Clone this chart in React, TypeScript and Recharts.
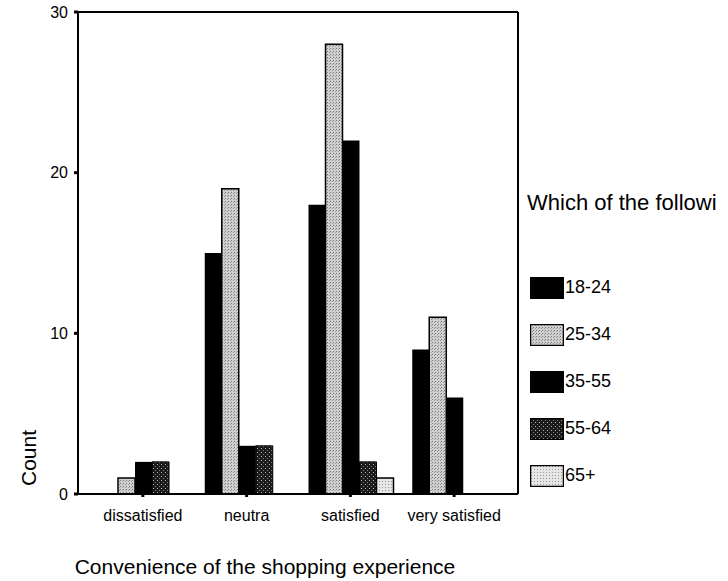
import { BarChart, Bar, XAxis, YAxis } from "recharts";

// Convenience of the shopping experience, counts by age group
const categories = ["dissatisfied", "neutra", "satisfied", "very satisfied"];
const age18to24 = [0, 15, 18, 9];
const age25to34 = [1, 19, 28, 11];
const age35to55 = [2, 3, 22, 6];
const age55to64 = [2, 3, 2, 0];
const age65plus = [0, 0, 1, 0];
const yTicks = [0, 10, 20, 30];

const seriesNames = ["18-24", "25-34", "35-55", "55-64", "65+"];
const seriesFills = ["#000", "url(#stipMid)", "#000", "url(#stipDark)", "url(#stipLight)"];
const seriesStroke = ["none", "#000", "none", "#000", "#000"];

const data = categories.map((name, i) => ({
  name,
  a: age18to24[i],
  b: age25to34[i],
  c: age35to55[i],
  d: age55to64[i],
  e: age65plus[i],
}));

const FONT = "'Liberation Sans', Arial, sans-serif";

// legend drawn as plain html so it doesn't eat plot width
function LegendBox() {
  return (
    <div style={{ position: "absolute", left: 527, top: 190, width: 201, fontFamily: FONT, color: "#000", whiteSpace: "nowrap", overflow: "hidden" }}>
      <div style={{ fontSize: 22, marginBottom: 48 }}>Which of the followi</div>
      {seriesNames.map((n, i) => (
        <div key={n} style={{ display: "flex", alignItems: "center", height: 47 }}>
          <svg width={34} height={22} style={{ marginLeft: 3 }}>
            <rect x={0.5} y={0.5} width={33} height={21} fill={seriesFills[i]} stroke="#000" strokeWidth={1.5} />
          </svg>
          <span style={{ fontSize: 18, marginLeft: 1 }}>{n}</span>
        </div>
      ))}
    </div>
  );
}

export default function App() {
  return (
    <div style={{ position: "absolute", left: 0, top: 0, width: 728, height: 581, background: "#fff", overflow: "hidden" }}>
      <svg width={0} height={0} style={{ position: "absolute" }}>
        <defs>
          <pattern id="stipMid" width={3} height={3} patternUnits="userSpaceOnUse">
            <rect width={3} height={3} fill="#d0d0d0" />
            <rect x={0} y={0} width={1} height={1} fill="#777" />
            <rect x={2} y={1} width={1} height={1} fill="#999" />
          </pattern>
          <pattern id="stipDark" width={4} height={4} patternUnits="userSpaceOnUse">
            <rect width={4} height={4} fill="#1a1a1a" />
            <rect x={1} y={0} width={1} height={1} fill="#bbb" />
            <rect x={3} y={2} width={1} height={1} fill="#888" />
          </pattern>
          <pattern id="stipLight" width={3} height={3} patternUnits="userSpaceOnUse">
            <rect width={3} height={3} fill="#e6e6e6" />
            <rect x={1} y={1} width={1} height={1} fill="#999" />
          </pattern>
        </defs>
      </svg>
      <BarChart
        width={728}
        height={581}
        data={data}
        margin={{ top: 11, right: 209, left: 0, bottom: 57 }}
        barCategoryGap={10}
        barGap={0}
      >
        <XAxis
          dataKey="name"
          height={30}
          interval={0}
          padding={{ left: 13, right: 12 }}
          axisLine={{ stroke: "#000", strokeWidth: 2 }}
          tickLine={{ stroke: "#000", strokeWidth: 3 }}
          tickSize={3}
          tick={{ fill: "#000", fontSize: 16, fontFamily: FONT, dy: 11 }}
          label={{
            content: ({ viewBox }: any) => (
              <text x={viewBox.x + 187} y={viewBox.y + 80} textAnchor="middle" fontSize={21} fontFamily={FONT} fill="#000">
                Convenience of the shopping experience
              </text>
            ),
          }}
        />
        <XAxis xAxisId="top" orientation="top" dataKey="name" height={1} tick={false} tickLine={false}
          axisLine={{ stroke: "#000", strokeWidth: 2 }} />
        <YAxis
          domain={[0, 30]}
          ticks={yTicks}
          width={78}
          axisLine={{ stroke: "#000", strokeWidth: 2 }}
          tickLine={{ stroke: "#000", strokeWidth: 3 }}
          tickSize={4}
          tick={{ fill: "#000", fontSize: 16, fontFamily: FONT, dx: -4 }}
          label={{
            content: ({ viewBox }: any) => (
              <text x={36} y={viewBox.y + 446} transform={`rotate(-90 36 ${viewBox.y + 446})`} textAnchor="middle"
                fontSize={21} fontFamily={FONT} fill="#000">
                Count
              </text>
            ),
          }}
        />
        <YAxis yAxisId="right" orientation="right" width={1} tick={false} tickLine={false}
          axisLine={{ stroke: "#000", strokeWidth: 2 }} />
        <Bar dataKey="a" name="18-24" fill={seriesFills[0]} stroke={seriesStroke[0]} isAnimationActive={false} />
        <Bar dataKey="b" name="25-34" fill={seriesFills[1]} stroke={seriesStroke[1]} strokeWidth={1.5} isAnimationActive={false} />
        <Bar dataKey="c" name="35-55" fill={seriesFills[2]} stroke={seriesStroke[2]} isAnimationActive={false} />
        <Bar dataKey="d" name="55-64" fill={seriesFills[3]} stroke={seriesStroke[3]} strokeWidth={1} isAnimationActive={false} />
        <Bar dataKey="e" name="65+" fill={seriesFills[4]} stroke={seriesStroke[4]} strokeWidth={1.5} isAnimationActive={false} />
      </BarChart>
      <LegendBox />
    </div>
  );
}
